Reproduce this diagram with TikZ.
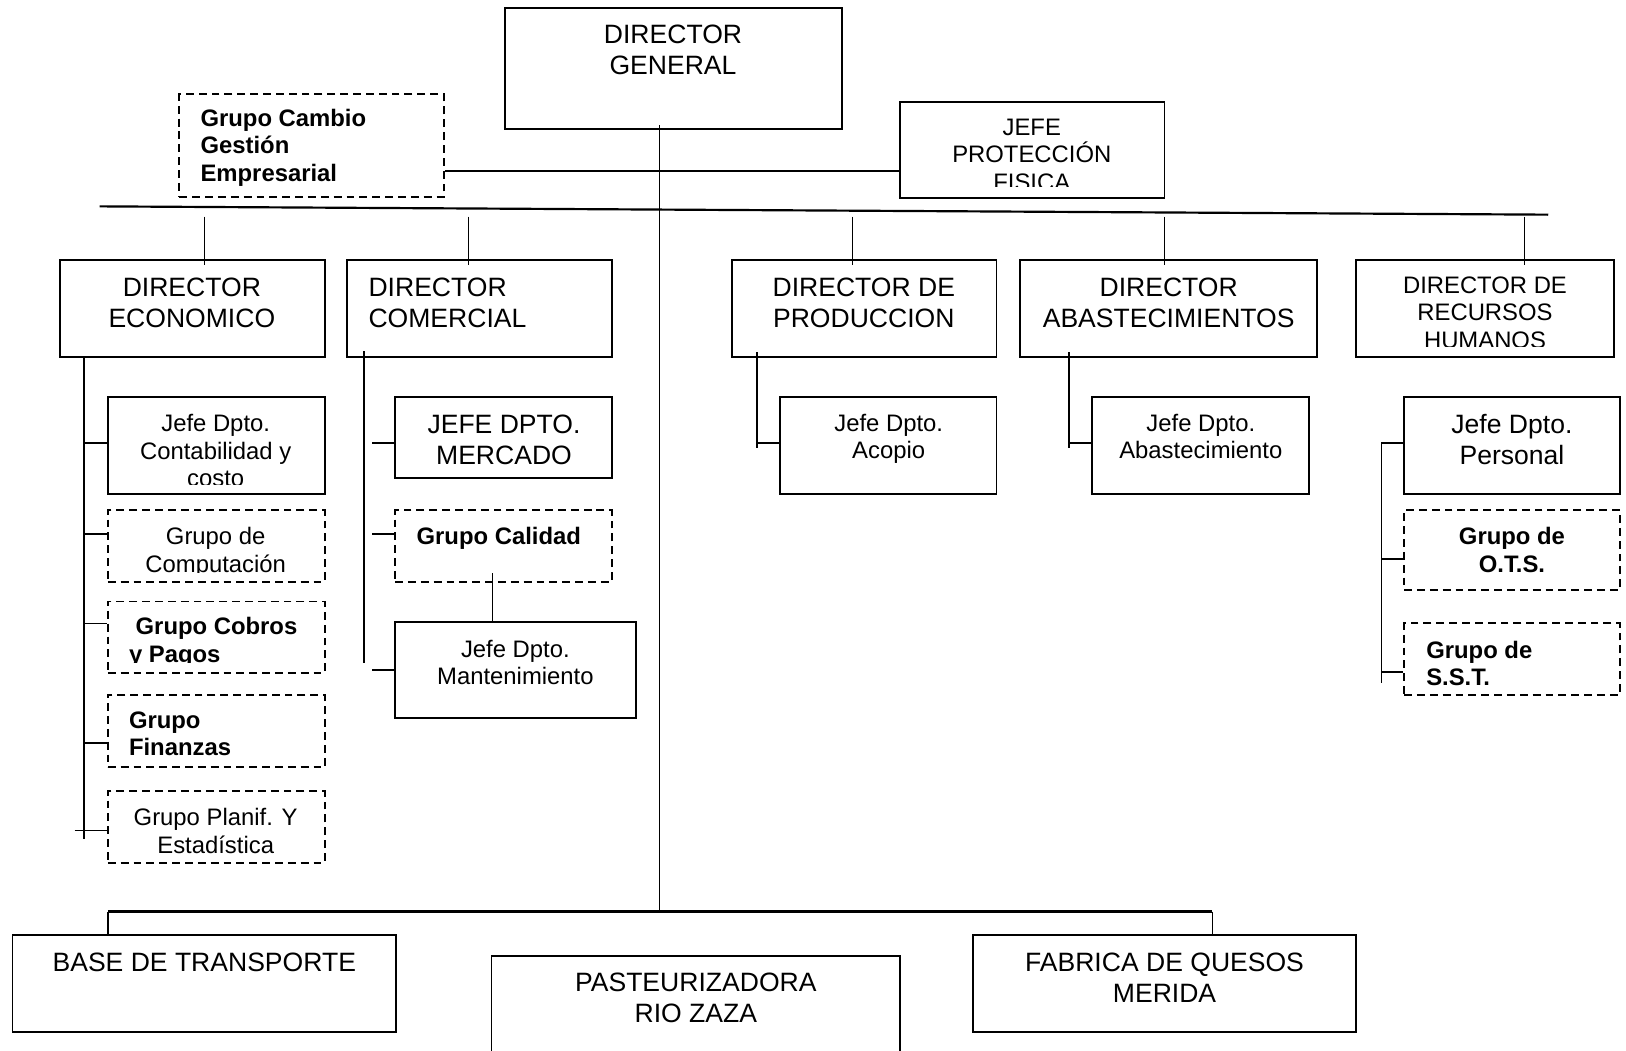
\documentclass[tikz,border=0pt]{standalone}
\usepackage{fontspec}
\setmainfont{Liberation Sans}
\usetikzlibrary{fit,calc}
% strut that fixes the height of the first line and the depth of the last one
\newcommand\zs{\rule[-0.184em]{0pt}{1.084em}}
\begin{document}
\begin{tikzpicture}[x=0.5pt,y=-0.5pt,
  box/.style={draw, line width=0.9pt, inner sep=0pt},
  dbox/.style={box, dash pattern=on 3.8pt off 2.4pt},
  big/.style={font=\fontsize{12.8}{15}\selectfont, inner sep=0pt, align=center},
  small/.style={font=\fontsize{11.5}{13.25}\selectfont, inner sep=0pt, align=center},
  bsmall/.style={font=\fontsize{11.5}{13.25}\selectfont\bfseries, inner sep=0pt, align=center},
  wire/.style={line width=0.7pt},
  rail/.style={line width=1.05pt},
]
\useasboundingbox (0,0) rectangle (1568,1013);

% ---------- boxes ----------
\node[box,  fit={(487,8) (812,124)}]     (dg) {};
\node[dbox, fit={(173,91) (428,190)}]    (cambio) {};
\node[box,  fit={(868,98) (1123,191)}]   (prot) {};
\node[box,  fit={(58,251) (313,344)}]    (deco) {};
\node[box,  fit={(335,251) (590,344)}]   (dcom) {};
\node[box,  fit={(706,251) (961,344)}]   (dprod) {};
\node[box,  fit={(984,251) (1270,344)}]  (dabas) {};
\node[box,  fit={(1308,251) (1556,344)}] (drh) {};
\node[box,  fit={(104,383) (313,476)}]   (cont) {};
\node[dbox, fit={(104,492) (313,561)}]   (comp) {};
\node[dbox, fit={(104,580) (313,649)}]   (cobros) {};
\node[dbox, fit={(104,670) (313,740)}]   (finan) {};
\node[dbox, fit={(104,763) (313,832)}]   (planif) {};
\node[box,  fit={(381,383) (590,461)}]   (merc) {};
\node[dbox, fit={(381,492) (590,561)}]   (calid) {};
\node[box,  fit={(381,600) (613,692)}]   (mant) {};
\node[box,  fit={(752,383) (961,476)}]   (acop) {};
\node[box,  fit={(1053,383) (1262,476)}] (abas) {};
\node[box,  fit={(1354,383) (1562,476)}] (pers) {};
\node[dbox, fit={(1354,492) (1562,569)}] (ots) {};
\node[dbox, fit={(1354,601) (1562,670)}] (sst) {};
\node[box,  fit={(12,902) (382,995)}]    (base) {};
\node[box,  fit={(474,922) (868,1030)}]  (paste) {};
\node[box,  fit={(938,902) (1308,995)}]  (fab) {};

% ---------- texts ----------
\node[big] (t-dg) at (649,48) {\zs DIRECTOR\\GENERAL\zs};
\node[bsmall, align=left, anchor=west] (t-cambio) at (193,140.5) {\zs Grupo Cambio\\Gestión\\Empresarial\zs};
\begin{scope}
  \clip (870,100) rectangle (1121,180);
  \node[small] (t-prot) at (995,148.5) {\zs JEFE\\PROTECCIÓN\\FISICA\zs};
\end{scope}
\node[big] (t-eco) at (185,291.5) {\zs DIRECTOR\\ECONOMICO\zs};
\node[big, align=left, anchor=west] (t-com) at (355,291.5) {\zs DIRECTOR\\COMERCIAL\zs};
\node[big] (t-prod) at (833,291.5) {\zs DIRECTOR DE\\PRODUCCION\zs};
\node[big] (t-abas) at (1127,291.5) {\zs DIRECTOR\\ABASTECIMIENTOS\zs};
\begin{scope}
  \clip (1310,253) rectangle (1554,334);
  \node[small] (t-rh) at (1432,301) {\zs DIRECTOR DE\\RECURSOS\\HUMANOS\zs};
\end{scope}
\begin{scope}
  \clip (106,385) rectangle (311,467);
  \node[small] (t-cont) at (208,434.5) {\zs Jefe Dpto.\\Contabilidad y\\costo\zs};
\end{scope}
\begin{scope}
  \clip (106,494) rectangle (311,552);
  \node[small] (t-comp) at (208,530.5) {\zs Grupo de\\Computación\zs};
\end{scope}
\begin{scope}
  \clip (106,582) rectangle (311,639);
  \node[bsmall, align=left, anchor=west] (t-cob) at (124,617.5) {\zs\hspace*{0.28em}Grupo Cobros\\y Pagos\zs};
\end{scope}
\node[bsmall, align=left, anchor=west] (t-fin) at (124,707.5) {\zs Grupo\\Finanzas\zs};
\node[small] (t-plan) at (208,801.5) {\zs Grupo Planif. Y\\Estadística\zs};
\node[big] (t-merc) at (486,424) {\zs JEFE DPTO.\\MERCADO\zs};
\node[bsmall] (t-cal) at (481,517) {\zs Grupo Calidad\zs};
\node[small] (t-mant) at (497,639) {\zs Jefe Dpto.\\Mantenimiento\zs};
\node[small] (t-acop) at (857,421) {\zs Jefe Dpto.\\Acopio\zs};
\node[small] (t-abas2) at (1158,421) {\zs Jefe Dpto.\\Abastecimiento\zs};
\node[big] (t-pers) at (1458,424) {\zs Jefe Dpto.\\Personal\zs};
\node[bsmall] (t-ots) at (1458,530.5) {\zs Grupo de\\O.T.S.\zs};
\node[bsmall, align=left, anchor=west] (t-sst) at (1375,640) {\zs Grupo de\\S.S.T.\zs};
\node[big] (t-base) at (197,928) {\zs BASE DE TRANSPORTE\zs};
\node[big] (t-past) at (671,962) {\zs PASTEURIZADORA\\RIO ZAZA\zs};
\node[big] (t-fab) at (1123,943) {\zs FABRICA DE QUESOS\\MERIDA\zs};

% ---------- top level links ----------
\coordinate (hl) at (0,165);
\draw[wire] (cambio.east |- hl) -- (prot.west |- hl);
\coordinate (dgv) at (636,879);
\draw[wire] ($(dgv |- dg.south)+(0,-4)$) -- (dgv);
\coordinate (railL) at (96,199);
\coordinate (railR) at (1493,207);
\draw[rail] (railL) -- (railR);
\coordinate (s1) at (197,209);
\coordinate (s2) at (452,209);
\coordinate (s3) at (822,209);
\coordinate (s4) at (1123,209);
\coordinate (s5) at (1470,209);
\draw[wire] (s1) -- ($(s1 |- deco.north)+(0,5)$);
\draw[wire] (s2) -- ($(s2 |- dcom.north)+(0,5)$);
\draw[wire] (s3) -- ($(s3 |- dprod.north)+(0,5)$);
\draw[wire] (s4) -- ($(s4 |- dabas.north)+(0,5)$);
\draw[wire] (s5) -- ($(s5 |- drh.north)+(0,5)$);

% ---------- economic branch ----------
\coordinate (ev) at (81,809);
\draw[wire] (ev |- deco.south) -- (ev);
\coordinate (e1) at (81,427);
\coordinate (e2) at (81,515);
\coordinate (e3) at (81,601);
\coordinate (e4) at (81,716.5);
\coordinate (e5) at (72,801);
\draw[wire] (e1) -- (cont.west |- e1);
\draw[wire] (e2) -- (comp.west |- e2);
\draw[wire] (e3) -- (cobros.west |- e3);
\draw[wire] (e4) -- (finan.west |- e4);
\draw[wire] (e5) -- (planif.west |- e5);

% ---------- commercial branch ----------
\coordinate (cv) at (351,639);
\draw[wire] ($(cv |- dcom.south)+(0,-6)$) -- (cv);
\coordinate (c1) at (359,427);
\coordinate (c2) at (359,515);
\coordinate (c3) at (359,646);
\draw[wire] (c1) -- (merc.west |- c1);
\draw[wire] (c2) -- (calid.west |- c2);
\draw[wire] (c3) -- (mant.west |- c3);
\coordinate (qm) at (475,553);
\draw[wire] (qm) -- (qm |- mant.north);

% ---------- production and supply ----------
\coordinate (pv) at (730,432);
\draw[wire] ($(pv |- dprod.south)+(0,-5)$) -- (pv);
\coordinate (p1) at (730,427);
\draw[wire] (p1) -- (acop.west |- p1);
\coordinate (av) at (1031,432);
\draw[wire] ($(av |- dabas.south)+(0,-5)$) -- (av);
\coordinate (a1) at (1031,427);
\draw[wire] (a1) -- (abas.west |- a1);

% ---------- human resources ----------
\coordinate (rtop) at (1332,427);
\coordinate (rbot) at (1332,659);
\draw[wire] (rtop) -- (rbot);
\coordinate (r2) at (1332,539);
\coordinate (r3) at (1332,648);
\draw[wire] (rtop) -- (pers.west |- rtop);
\draw[wire] (r2) -- (ots.west |- r2);
\draw[wire] (r3) -- (sst.west |- r3);

% ---------- plants ----------
\coordinate (bl) at (104,879);
\coordinate (br) at (1169,879);
\draw[rail] (bl) -- (br);
\draw[wire] (bl) -- (bl |- base.north);
\draw[wire] (br) -- (br |- fab.north);
\end{tikzpicture}
\end{document}
